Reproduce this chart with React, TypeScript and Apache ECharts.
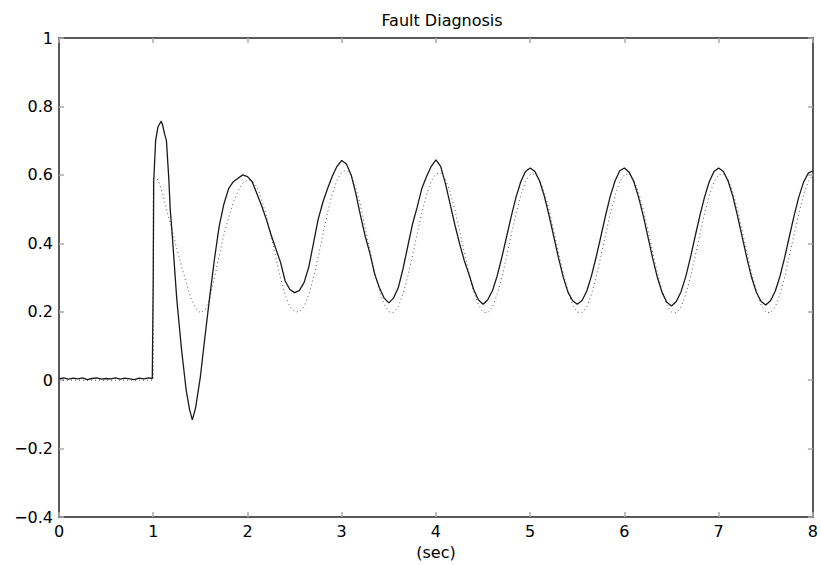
import React, { useEffect, useRef } from "react";
import * as echarts from "echarts";

// Transient part of the measured (solid) signal, 0 .. 1.95 s
const solidTransientTime = [
  0, 0.05, 0.1, 0.15, 0.2, 0.25, 0.3, 0.35, 0.4, 0.45, 0.5, 0.55, 0.6, 0.65, 0.7, 0.75, 0.8, 0.85, 0.9, 0.95,
  0.99, 1.0, 1.005, 1.025, 1.05, 1.07, 1.085, 1.1, 1.12, 1.14, 1.165, 1.18, 1.2, 1.25, 1.3, 1.35, 1.385, 1.415,
  1.45, 1.5, 1.55, 1.6, 1.65, 1.7, 1.75, 1.8, 1.85, 1.9, 1.95,
];
const solidTransientValue = [
  0.004, 0.007, 0.003, 0.006, 0.004, 0.007, 0.002, 0.005, 0.007, 0.003, 0.005, 0.004, 0.007, 0.003, 0.006, 0.004,
  0.002, 0.006, 0.004, 0.007, 0.005, 0.3, 0.58, 0.7, 0.74, 0.75, 0.757, 0.745, 0.72, 0.7, 0.59, 0.5, 0.43, 0.236,
  0.09, -0.03, -0.085, -0.116, -0.08, 0.01, 0.13, 0.245, 0.355, 0.45, 0.515, 0.56, 0.58, 0.59, 0.6,
];

// Steady part of the solid signal, 2.0 .. 8.0 s every 0.05 s
const steadyStart = 2.0;
const steadyStep = 0.05;
const solidSteadyValue = [
  0.595, 0.58, 0.545, 0.51, 0.47, 0.425, 0.385, 0.345, 0.29, 0.265,
  0.256, 0.262, 0.285, 0.33, 0.4, 0.47, 0.52, 0.56, 0.596, 0.625,
  0.642, 0.632, 0.6, 0.545, 0.48, 0.42, 0.37, 0.31, 0.27, 0.24,
  0.226, 0.24, 0.27, 0.325, 0.39, 0.455, 0.505, 0.56, 0.595, 0.625,
  0.644, 0.625, 0.575, 0.515, 0.455, 0.4, 0.35, 0.31, 0.265, 0.235,
  0.222, 0.235, 0.262, 0.305, 0.36, 0.42, 0.48, 0.535, 0.58, 0.61,
  0.62, 0.61, 0.582, 0.538, 0.482, 0.42, 0.358, 0.302, 0.258, 0.232,
  0.222, 0.233, 0.26, 0.305, 0.36, 0.42, 0.482, 0.538, 0.582, 0.612,
  0.62, 0.608, 0.58, 0.535, 0.48, 0.418, 0.356, 0.3, 0.256, 0.228,
  0.217, 0.23, 0.258, 0.302, 0.358, 0.42, 0.48, 0.535, 0.58, 0.61,
  0.62, 0.61, 0.582, 0.538, 0.48, 0.418, 0.356, 0.3, 0.257, 0.23,
  0.22, 0.232, 0.26, 0.303, 0.358, 0.42, 0.48, 0.535, 0.578, 0.605,
  0.612,
];

// Transient part of the model (dotted) signal, 0 .. 1.95 s
const dottedTransientTime = [
  0, 0.25, 0.5, 0.75, 1.0, 1.0, 1.05, 1.1, 1.15, 1.2, 1.25, 1.3, 1.35, 1.4, 1.45, 1.5, 1.55, 1.6, 1.65, 1.7, 1.75,
  1.8, 1.85, 1.9, 1.95,
];
const dottedTransientValue = [
  0, 0, 0, 0, 0, 0.59, 0.586, 0.545, 0.49, 0.44, 0.385, 0.333, 0.285, 0.24, 0.21, 0.197, 0.205, 0.24, 0.3, 0.365,
  0.425, 0.475, 0.52, 0.553, 0.576,
];

// Steady part of the dotted signal, 2.0 .. 8.0 s every 0.05 s
const dottedSteadyValue = [
  0.586, 0.582, 0.565, 0.53, 0.48, 0.42, 0.36, 0.3, 0.25, 0.215,
  0.2, 0.2, 0.215, 0.25, 0.3, 0.36, 0.425, 0.49, 0.545, 0.585,
  0.608, 0.614, 0.6, 0.562, 0.51, 0.445, 0.378, 0.315, 0.262, 0.222,
  0.2, 0.198, 0.215, 0.252, 0.302, 0.363, 0.427, 0.489, 0.542, 0.582,
  0.603, 0.606, 0.588, 0.55, 0.499, 0.438, 0.374, 0.313, 0.26, 0.22,
  0.199, 0.197, 0.214, 0.251, 0.301, 0.362, 0.426, 0.487, 0.54, 0.58,
  0.601, 0.603, 0.586, 0.549, 0.499, 0.438, 0.374, 0.313, 0.26, 0.22,
  0.199, 0.197, 0.214, 0.251, 0.301, 0.362, 0.426, 0.487, 0.54, 0.58,
  0.601, 0.603, 0.586, 0.549, 0.499, 0.438, 0.374, 0.313, 0.26, 0.22,
  0.199, 0.197, 0.214, 0.251, 0.301, 0.362, 0.426, 0.487, 0.54, 0.58,
  0.601, 0.603, 0.586, 0.549, 0.499, 0.438, 0.374, 0.313, 0.26, 0.22,
  0.199, 0.197, 0.214, 0.251, 0.301, 0.362, 0.426, 0.487, 0.54, 0.58,
  0.601,
];

const titleText = "Fault Diagnosis";
const xAxisName = "(sec)";

function buildPairs(tt: number[], tv: number[], sv: number[]): number[][] {
  const out: number[][] = tt.map((t, i) => [t, tv[i]]);
  sv.forEach((v, i) => {
    out.push([Math.round((steadyStart + i * steadyStep) * 1000) / 1000, v]);
  });
  return out;
}

const FONT = "DejaVu Sans";

function fmtY(v: number): string {
  const r = Math.round(v * 10) / 10;
  if (r === 0) return "0";
  if (r < 0) return "\u2212" + String(-r);
  return String(r);
}

export default function App() {
  const ref = useRef<HTMLDivElement>(null);
  useEffect(() => {
    if (!ref.current) return;
    const chart = echarts.init(ref.current, undefined, { renderer: "svg" });
    const frame = { color: "#5a5a5a", width: 2 };
    const tick = { inside: true, length: 5, lineStyle: { color: "#aaaaaa", width: 1.5 } };
    chart.setOption({
      animation: false,
      backgroundColor: "#ffffff",
      title: {
        text: titleText,
        left: 437,
        top: 7,
        textAlign: "center",
        textStyle: { fontFamily: FONT, fontSize: 16, fontWeight: "normal", color: "#000" },
      },
      grid: { left: 59, right: 5, top: 38, bottom: 47 },
      xAxis: [
        {
          type: "value",
          min: 0,
          max: 8,
          interval: 1,
          position: "bottom",
          axisLine: { show: true, onZero: false, lineStyle: frame },
          axisTick: tick,
          splitLine: { show: false },
          axisLabel: { color: "#000", fontFamily: FONT, fontSize: 16, margin: 6 },
          name: xAxisName,
          nameLocation: "middle",
          nameGap: 23,
          nameTextStyle: { color: "#000", fontFamily: FONT, fontSize: 16 },
        },
        {
          type: "value",
          min: 0,
          max: 8,
          interval: 1,
          position: "top",
          axisLine: { show: true, onZero: false, lineStyle: frame },
          axisTick: tick,
          splitLine: { show: false },
          axisLabel: { show: false },
        },
      ],
      yAxis: [
        {
          type: "value",
          min: -0.4,
          max: 1,
          interval: 0.2,
          position: "left",
          axisLine: { show: true, onZero: false, lineStyle: frame },
          axisTick: tick,
          splitLine: { show: false },
          axisLabel: { color: "#000", fontFamily: FONT, fontSize: 16, margin: 6, formatter: fmtY },
        },
        {
          type: "value",
          min: -0.4,
          max: 1,
          interval: 0.2,
          position: "right",
          axisLine: { show: true, onZero: false, lineStyle: frame },
          axisTick: tick,
          splitLine: { show: false },
          axisLabel: { show: false },
        },
      ],
      series: [
        {
          type: "line",
          name: "model",
          xAxisIndex: 0,
          yAxisIndex: 0,
          data: buildPairs(dottedTransientTime, dottedTransientValue, dottedSteadyValue),
          showSymbol: false,
          symbol: "none",
          lineStyle: { color: "#555", width: 1, type: [1, 3] },
          z: 2,
        },
        {
          type: "line",
          name: "measured",
          xAxisIndex: 0,
          yAxisIndex: 0,
          data: buildPairs(solidTransientTime, solidTransientValue, solidSteadyValue),
          showSymbol: false,
          symbol: "none",
          lineStyle: { color: "#1a1a1a", width: 1.3 },
          z: 3,
        },
      ],
    });
    return () => chart.dispose();
  }, []);
  return (
    <div
      ref={ref}
      style={{ position: "absolute", left: 0, top: 0, width: 821, height: 565, background: "#fff" }}
    />
  );
}
